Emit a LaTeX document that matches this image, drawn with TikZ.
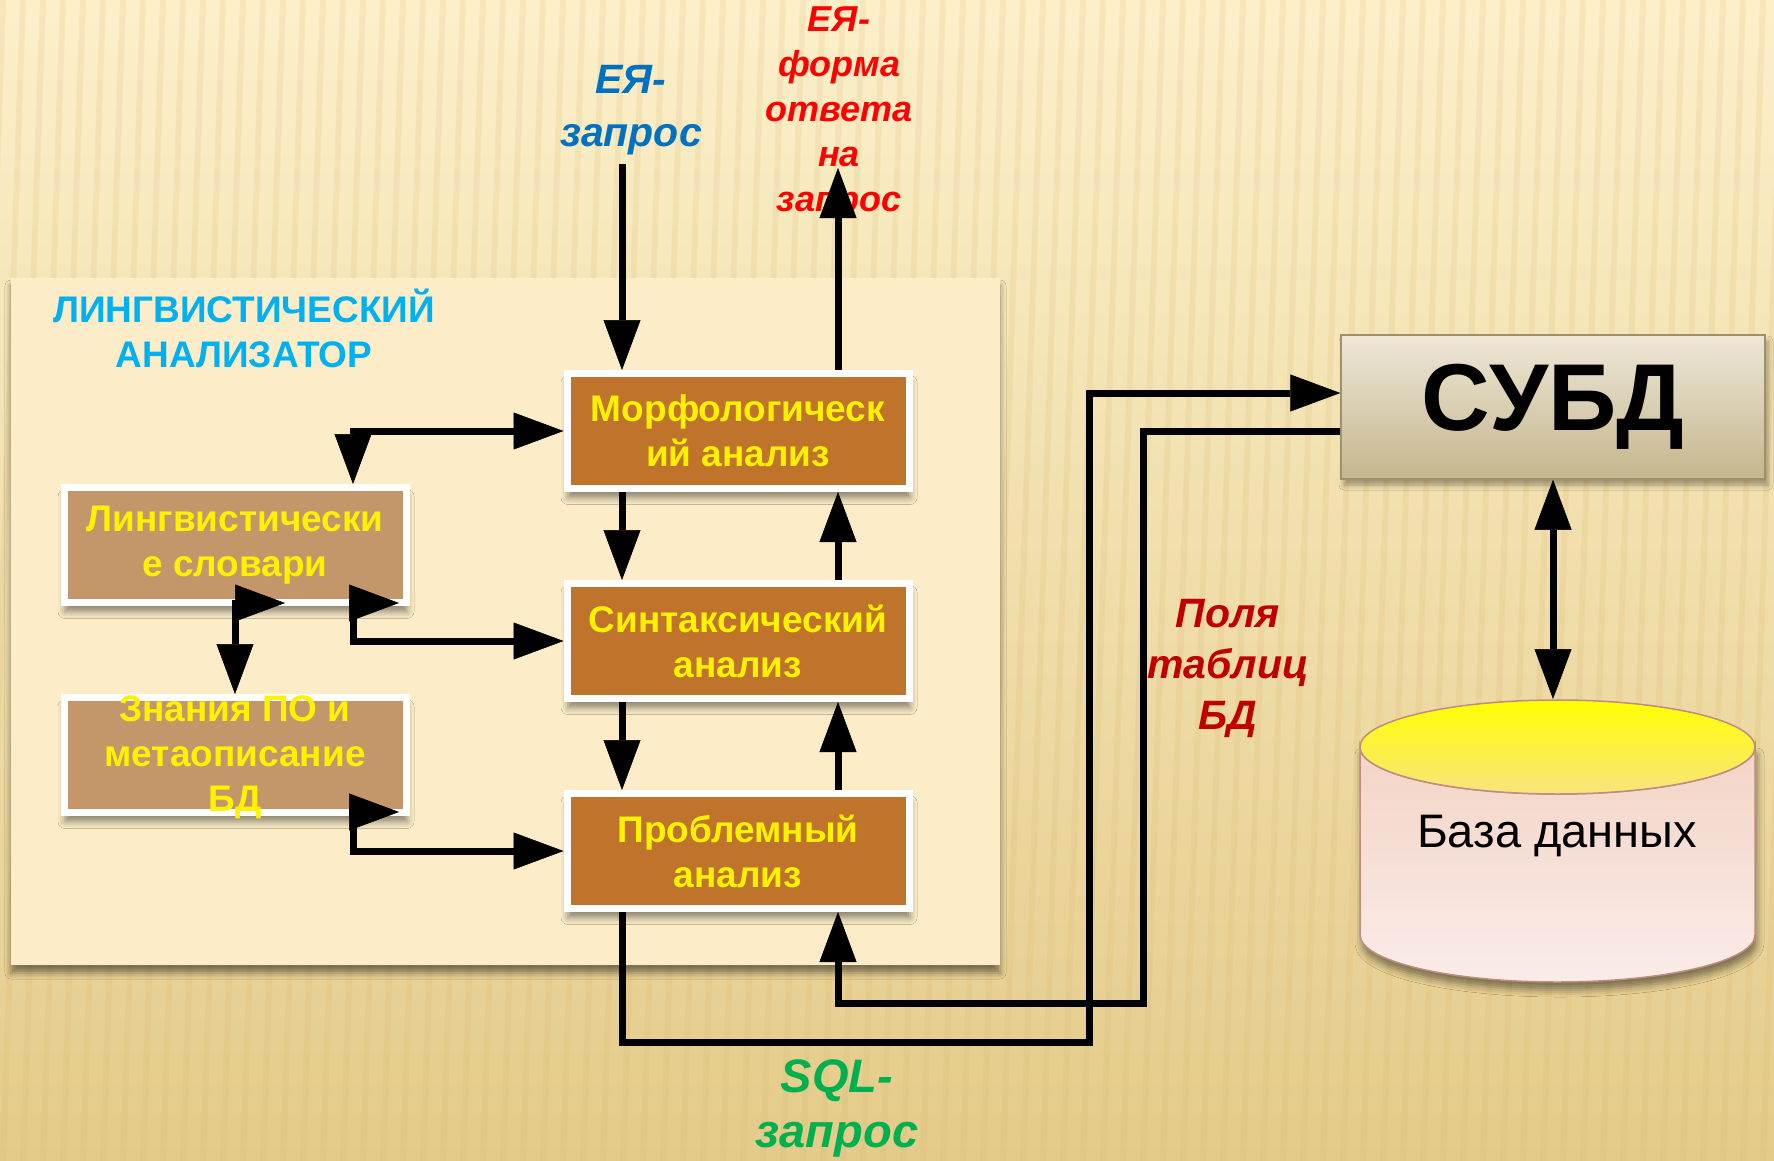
\documentclass[tikz,border=0pt]{standalone}
\usepackage{fontspec}
\setmainfont{Liberation Sans}
\usetikzlibrary{arrows.meta,shadows.blur,calc}
\definecolor{bgtop}{RGB}{252,240,202}
\definecolor{bgbot}{RGB}{228,203,138}
\definecolor{stripe}{RGB}{215,180,105}
\definecolor{panelc}{RGB}{252,237,200}
\definecolor{boxorange}{RGB}{192,115,42}
\definecolor{boxtan}{RGB}{196,151,107}
\definecolor{titlecyan}{RGB}{0,176,240}
\definecolor{qblue}{RGB}{0,112,192}
\definecolor{ansred}{RGB}{255,0,0}
\definecolor{fieldred}{RGB}{192,0,0}
\definecolor{sqlgreen}{RGB}{0,176,80}
\definecolor{subdtop}{RGB}{238,231,216}
\definecolor{subdbot}{RGB}{196,182,140}
\definecolor{subdline}{RGB}{160,145,110}
\definecolor{dbtopc}{RGB}{255,255,0}
\definecolor{dbtopb}{RGB}{248,228,125}
\definecolor{dbbody}{RGB}{243,212,198}
\definecolor{dbbodyb}{RGB}{250,236,232}
\definecolor{dbline}{RGB}{190,140,130}
\begin{document}
\begin{tikzpicture}[x=1pt,y=-1pt,
  >={Triangle[length=50pt,width=37pt,line width=0.5pt,fill=black]},
  softshadow/.style={blur shadow={shadow xshift=1pt,shadow yshift=-9pt,shadow blur radius=7pt,shadow opacity=45}},
  box/.style={draw=white,line width=7pt,minimum width=342pt,minimum height=115pt,inner sep=0pt,softshadow},
  obox/.style={box,fill=boxorange},
  tbox/.style={box,fill=boxtan},
  btext/.style={text=yellow,font=\fontsize{37}{45}\selectfont\bfseries,align=center,inner sep=0pt},
  lab/.style={align=center,inner sep=0pt},
  conn/.style={draw=black,line width=7pt,line join=miter,->},
  conn2/.style={draw=black,line width=7pt,line join=miter,<->}]
\useasboundingbox (0,0) rectangle (1774,1161);
% background
\shade[top color=bgtop,bottom color=bgbot] (0,0) rectangle (1774,1161);
\begin{scope}
\clip (0,0) rectangle (1774,1161);
\foreach \i in {0,...,95}{
  \fill[stripe,opacity=0.16] ({\i*20-40},0) -- ({\i*20-34},0) -- ({\i*20-74},1161) -- ({\i*20-80},1161) -- cycle;
}
\end{scope}
% panel
\fill[panelc,blur shadow={shadow xshift=0pt,shadow yshift=-8pt,shadow blur radius=6pt,shadow opacity=45}] (11,278) rectangle (1000,965);
\node[font=\fontsize{37}{45}\selectfont\bfseries,text=titlecyan,align=center,inner sep=0pt] (title) at (244,328) {ЛИНГВИСТИЧЕСКИЙ\\АНАЛИЗАТОР};
% boxes
\node[obox] (morph) at (738,431) {};
\node[obox] (synt) at (738,641) {};
\node[obox] (probl) at (738,851) {};
\node[tbox] (dict) at (235,545) {};
\node[tbox] (znan) at (235,755) {};
\node[btext] (morphT) at (morph) {Морфологическ\\ий анализ};
\node[btext] (syntT) at (synt) {Синтаксический\\анализ};
\node[btext] (problT) at (probl) {Проблемный\\анализ};
\node[btext] (dictT) at (dict) {Лингвистически\\е словари};
\node[btext] (znanT) at (235,757) {Знания ПО и\\метаописание\\БД};
% SUBD
\node[draw=subdline,line width=1.5pt,top color=subdtop,bottom color=subdbot,minimum width=424pt,minimum height=144pt,inner sep=0pt,
  blur shadow={shadow xshift=3pt,shadow yshift=-6pt,shadow blur radius=5pt,shadow opacity=35},
  font=\fontsize{95}{100}\selectfont\bfseries] (subd) at (1553,407) {СУБД};
% database cylinder
\path[blur shadow={shadow xshift=2pt,shadow yshift=-8pt,shadow blur radius=7pt,shadow opacity=45}]
  (1360,747) -- (1360,935) arc[start angle=180,end angle=0,x radius=197.5,y radius=47] -- (1755,747) -- cycle;
\shade[top color=dbbody,bottom color=dbbodyb,draw=dbline,line width=1.5pt]
  (1360,747) -- (1360,935) arc[start angle=180,end angle=0,x radius=197.5,y radius=47] -- (1755,747) arc[start angle=0,end angle=180,x radius=197.5,y radius=47] -- cycle;
\shade[top color=dbtopc,bottom color=dbtopb,draw=dbline,line width=1.5pt] (1557.5,747) ellipse[x radius=197.5,y radius=47];
\node[font=\fontsize{47}{50}\selectfont,inner sep=0pt] (dbT) at (1557,836) {База данных};
\coordinate (dbtop) at (1557,699);
% labels
\node[lab,text=qblue,font=\fontsize{41}{53}\selectfont\bfseries\itshape] (eyq) at (631,110) {ЕЯ-\\запрос};
\node[lab,text=ansred,font=\fontsize{36}{45}\selectfont\bfseries\itshape] (eya) at (839,113) {ЕЯ-\\форма\\ответа\\на\\запрос};
\node[lab,text=fieldred,font=\fontsize{41}{51}\selectfont\bfseries\itshape] (fields) at (1228,668) {Поля\\таблиц\\БД};
\node[lab,text=sqlgreen,font=\fontsize{47}{55}\selectfont\bfseries\itshape] (sql) at (837,1108) {SQL-\\запрос};
% connectors
\coordinate (qin) at (622,164);
\coordinate (aout) at (838,168);
\draw[conn] (qin) -- (qin |- morph.north);
\draw[conn] (aout |- morph.north) -- (aout);
\draw[conn] (qin |- morph.south) -- (qin |- synt.north);
\draw[conn] (aout |- synt.north) -- (aout |- morph.south);
\draw[conn] (qin |- synt.south) -- (qin |- probl.north);
\draw[conn] (aout |- probl.north) -- (aout |- synt.south);
\draw[conn2] ([xshift=118pt]dict.north) |- (morph.west);
\coordinate (c0) at (285,603);
\coordinate (c1) at (399,603);
\coordinate (c2) at (399,812);
\draw[conn2] (c0) -- (c0 -| znan.north) -- (znan.north);
\draw[conn2] (c1) -- ++(-46,0) |- (synt.west);
\draw[conn2] (c2) -- ++(-46,0) |- (probl.west);
\coordinate (s1) at (1089,1042);
\coordinate (s2) at (1143,1003);
\draw[conn] (qin |- probl.south) |- (s1) |- ([yshift=14pt]subd.west);
\draw[conn] ([yshift=-24pt]subd.west) -| (s2) -| (aout |- probl.south);
\draw[conn2] (subd.south) -- (subd.south |- dbtop);
\end{tikzpicture}
\end{document}
